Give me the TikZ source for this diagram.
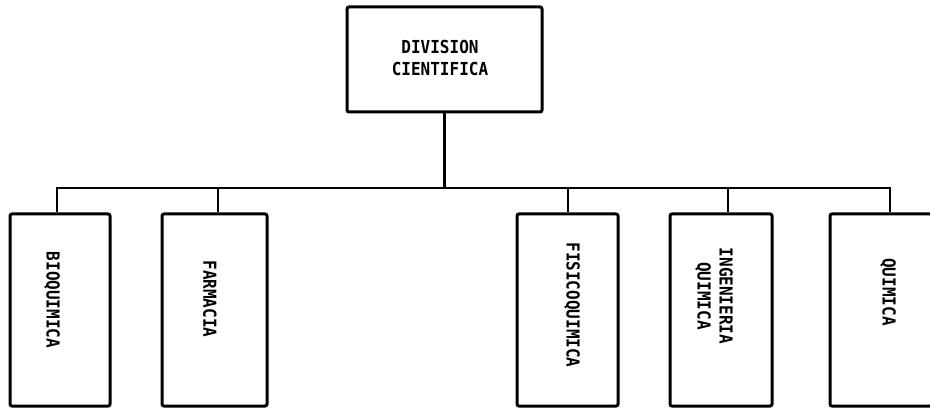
\documentclass[tikz,border=0pt]{standalone}
\usepackage{fontspec}
\setmainfont{DejaVu Sans Mono}
\usepackage{graphicx}
\newcommand{\tallt}[1]{\scalebox{1}[1.12]{#1}}
\begin{document}
\begin{tikzpicture}[x=1pt,y=-1pt,
  box/.style={draw, line width=3pt, rounded corners=2pt, inner sep=0pt, fill=white},
  conn/.style={line width=2.8pt},
  txt/.style={font=\fontsize{16}{22}\selectfont\bfseries, align=center, inner sep=0pt},
  vtxt/.style={txt, rotate=-90}]
\useasboundingbox (0,0) rectangle (930,409);
% top box
\node[box, minimum width=195pt, minimum height=105pt] (top) at (444.5,59.5) {};
\node[txt] (toptxt) at (440,58) {\tallt{DIVISION}\\\tallt{CIENTIFICA}};
% bottom boxes
\node[box, minimum width=100pt, minimum height=192pt] (bio) at (60,310) {};
\node[box, minimum width=105pt, minimum height=192pt] (far) at (214.5,310) {};
\node[box, minimum width=101pt, minimum height=192pt] (fis) at (567.5,310) {};
\node[box, minimum width=102pt, minimum height=192pt] (ing) at (721,310) {};
\node[box, minimum width=102pt, minimum height=192pt] (qui) at (881,310) {};
% labels
\node[vtxt] (biot) at (52,300) {\tallt{BIOQUIMICA}};
\node[vtxt] (fart) at (210,299) {\tallt{FARMACIA}};
\node[vtxt] (fist) at (572,305) {\tallt{FISICOQUIMICA}};
\node[vtxt] (ingt) at (714,296) {\tallt{INGENIERIA}\\\tallt{QUIMICA}};
\node[vtxt] (quit) at (888,292) {\tallt{QUIMICA}};
% connectors
\coordinate (s1) at (57,188);
\coordinate (s2) at (218,188);
\coordinate (s3) at (568,188);
\coordinate (s4) at (728,188);
\coordinate (s5) at (890,188);
\draw[conn] (top.south) -- (top.south |- s1);
\draw[conn, line cap=rect] (s1) -- (s5);
\draw[conn] (s1) -- (s1 |- bio.north);
\draw[conn] (s2) -- (s2 |- far.north);
\draw[conn] (s3) -- (s3 |- fis.north);
\draw[conn] (s4) -- (s4 |- ing.north);
\draw[conn] (s5) -- (s5 |- qui.north);
\end{tikzpicture}
\end{document}
